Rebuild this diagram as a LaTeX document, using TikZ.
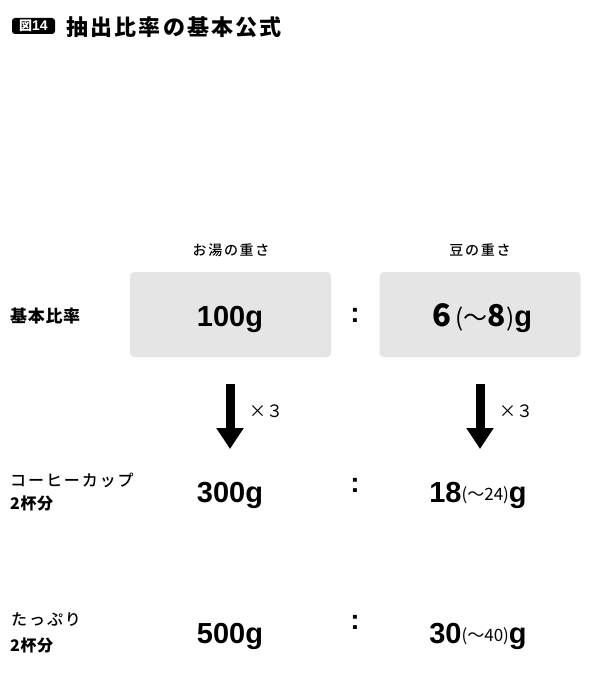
\documentclass[tikz,border=0pt]{standalone}
\usepackage{fontspec}
\usetikzlibrary{arrows.meta}
\setmainfont{Liberation Sans}
\newfontfamily\jp{Noto Sans CJK JP}
\newfontfamily\jpm{Noto Sans CJK JP Medium}
\newfontfamily\jpmsp{Noto Sans CJK JP Medium}[LetterSpace=12]
\newfontfamily\jpsp{Noto Sans CJK JP}[LetterSpace=10]
\newfontfamily\jpbs{Noto Sans CJK JP}[LetterSpace=4]
\newcommand{\fsz}[1]{\fontsize{#1}{#1}\selectfont}
\tikzset{
  badge/.style={fill=black, text=white, rounded corners=3pt, inner sep=0pt, minimum width=43pt, minimum height=16pt, font=\bfseries\fsz{14}},
  titletext/.style={anchor=west, inner sep=0pt, font=\jpsp\bfseries\fsz{22}},
  headtext/.style={inner sep=0pt, font=\jpmsp\fsz{14}},
  ratiobox/.style={fill=black!10, rounded corners=4pt, inner sep=0pt, minimum width=201pt, minimum height=85pt},
  numtext/.style={anchor=base, inner sep=0pt, font=\bfseries\fsz{29}},
  colontext/.style={anchor=base, inner sep=0pt, font=\bfseries\fsz{28}},
  rowlbl/.style={anchor=west, inner sep=0pt, font=\jpmsp\fsz{16}},
  rowlblb/.style={anchor=west, inner sep=0pt, font=\jpbs\bfseries\fsz{16}},
  multext/.style={anchor=west, inner sep=0pt, font=\jp\fsz{17}},
  bigarrow/.style={line width=9pt, -{Triangle[width=26pt,length=21pt]}}
}
\newcommand{\smallpart}[1]{\raisebox{2pt}{\jp\mdseries\fsz{17}#1}}
\begin{document}
\begin{tikzpicture}[x=1pt,y=-1pt]
\useasboundingbox[fill=white] (0,0) rectangle (600,677);
% title
\node[badge] (badge) at (33.5,26) {{\jp\bfseries\fsz{13}図}14};
\node[titletext] (title) at (66,27) {抽出比率の基本公式};
% headers
\node[headtext] (h1) at (231,250) {お湯の重さ};
\node[headtext] (h2) at (480,250) {豆の重さ};
% row labels
\node[rowlblb, font=\jpbs\bfseries\fsz{17}] (r0) at (10,316) {基本比率};
\node[rowlbl] (r1a) at (10,480) {コーヒーカップ};
\node[rowlblb] (r1b) at (10,503) {2杯分};
\node[rowlbl] (r2a) at (11,620) {たっぷり};
\node[rowlblb] (r2b) at (10,645) {2杯分};
% boxes
\node[ratiobox] (b1) at (230.5,314.5) {};
\node[ratiobox] (b2) at (480,314.5) {};
% numbers
\node[numtext] (n1) at (230,326) {100g};
\node[numtext] (m1) at (482,326) {{\jpm\fsz{31}6}\,{\jp\mdseries\fsz{24}(～}{\jpm\fsz{30}8}{\jp\mdseries\fsz{24})}g};
\node[colontext] (c1) at (355,322) {:};
\node[numtext] (n2) at (230,502) {300g};
\node[numtext] (m2) at (478,502) {18\smallpart{(～24)}g};
\node[colontext] (c2) at (355,492) {:};
\node[numtext] (n3) at (230,643) {500g};
\node[numtext] (m3) at (478,643) {30\smallpart{(～40)}g};
\node[colontext] (c3) at (355,629) {:};
% arrows
\coordinate (a1s) at (230,384);
\coordinate (a1e) at (230,449);
\coordinate (a2s) at (480,384);
\coordinate (a2e) at (480,449);
\draw[bigarrow] (a1s) -- (a1e);
\draw[bigarrow] (a2s) -- (a2e);
\node[multext] (x1) at (249,411) {×３};
\node[multext] (x2) at (499,411) {×３};
\end{tikzpicture}
\end{document}
